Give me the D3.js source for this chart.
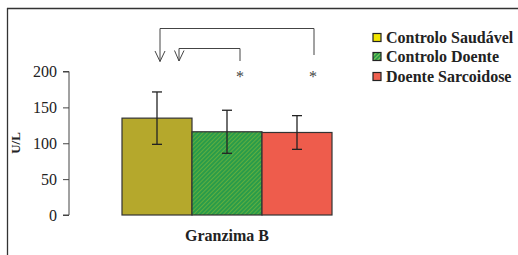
<!DOCTYPE html>
<html><head><meta charset="utf-8">
<script src="https://cdn.jsdelivr.net/npm/d3@7"></script>
<style>body{margin:0;background:#fff}</style>
</head><body>
<script>
const groups = ["Controlo Saudável", "Controlo Doente", "Doente Sarcoidose"];
const means = [135, 116, 115];
const errs = [36.5, 30, 23.5];
const yTicks = [0, 50, 100, 150, 200];
const category = "Granzima B";
const yLabel = "U/L";
const barColors = ["#b5a82c", "#2d9e4c", "#ee5c4c"];
const legendColors = ["#f2e600", "url(#hatchL)", "#ef6050"];

const FONT = "serif";
const W = 518, H = 255;
const svg = d3.select("body").append("svg").attr("width", W).attr("height", H);

const defs = svg.append("defs");
const pat = defs.append("pattern").attr("id", "hatch").attr("patternUnits", "userSpaceOnUse")
  .attr("width", 3).attr("height", 3).attr("patternTransform", "rotate(45)");
pat.append("rect").attr("width", 3).attr("height", 3).attr("fill", "#2a9c4a");
pat.append("rect").attr("width", 1).attr("height", 3).attr("fill", "#5fae3e");
const patL = defs.append("pattern").attr("id", "hatchL").attr("patternUnits", "userSpaceOnUse")
  .attr("width", 3).attr("height", 3).attr("patternTransform", "rotate(45)");
patL.append("rect").attr("width", 3).attr("height", 3).attr("fill", "#2a9c4a");
patL.append("rect").attr("width", 1).attr("height", 3).attr("fill", "#8ccc5a");
const fills = [barColors[0], "url(#hatch)", barColors[2]];

// frame
svg.append("line").attr("x1", 7).attr("x2", W).attr("y1", 8.5).attr("y2", 8.5).attr("stroke", "#333").attr("stroke-width", 1.3);
svg.append("line").attr("x1", 7.5).attr("x2", 7.5).attr("y1", 8).attr("y2", H).attr("stroke", "#333").attr("stroke-width", 1.3);

const y = d3.scaleLinear().domain([0, 200]).range([215, 71.5]);
const x = d3.scaleBand().domain(groups).range([122, 332]).padding(0);

const yAxis = svg.append("g").attr("transform", "translate(69,0)")
  .call(d3.axisLeft(y).tickValues(yTicks).tickSize(6).tickPadding(6));
yAxis.attr("font-family", FONT).attr("font-size", 16);
yAxis.select(".domain").attr("stroke", "#444").attr("d", `M-6,${y(200)}H0V${y(0)}H-6`);
yAxis.selectAll(".tick line").attr("stroke", "#444");
yAxis.selectAll("text").attr("fill", "#222").attr("font-family", FONT).attr("font-size", 16);

// bars
svg.selectAll("rect.bar").data(groups).join("rect").attr("class", "bar")
  .attr("x", d => x(d)).attr("width", x.bandwidth())
  .attr("y", (d, i) => y(means[i])).attr("height", (d, i) => y(0) - y(means[i]))
  .attr("fill", (d, i) => fills[i]).attr("stroke", "#333").attr("stroke-width", 1.2);

// error bars
groups.forEach((g, i) => {
  const cx = x(g) + x.bandwidth() / 2;
  const t = y(means[i] + errs[i]), b = y(means[i] - errs[i]);
  const eg = svg.append("g").attr("stroke", "#222").attr("stroke-width", 1.3);
  eg.append("line").attr("x1", cx).attr("x2", cx).attr("y1", t).attr("y2", b);
  eg.append("line").attr("x1", cx - 5).attr("x2", cx + 5).attr("y1", t).attr("y2", t);
  eg.append("line").attr("x1", cx - 5).attr("x2", cx + 5).attr("y1", b).attr("y2", b);
});

// significance brackets
const c0 = x(groups[0]) + x.bandwidth() / 2;
const c1 = x(groups[1]) + x.bandwidth() / 2;
const c2 = x(groups[2]) + x.bandwidth() / 2;
const br = svg.append("g").attr("stroke", "#444").attr("stroke-width", 1).attr("fill", "none");
br.append("path").attr("d", `M${c2 + 17},55V28.5H${c0 + 3}V61.5`);
br.append("path").attr("d", `M${c0 - 2},51L${c0 + 3},61.5L${c0 + 8},51`);
br.append("path").attr("d", `M${c1 + 13},61V48.5H${c0 + 22}V61`);
br.append("path").attr("d", `M${c0 + 17.5},50.5L${c0 + 22},61L${c0 + 27},50.5`);
svg.append("text").attr("x", c1 + 13).attr("y", 82).attr("text-anchor", "middle")
  .attr("fill", "#444").attr("font-family", FONT).attr("font-size", 16).text("*");
svg.append("text").attr("x", c2 + 16).attr("y", 82).attr("text-anchor", "middle")
  .attr("fill", "#444").attr("font-family", FONT).attr("font-size", 16).text("*");

// axis labels
svg.append("text").attr("transform", "translate(20,143) rotate(-90)").attr("text-anchor", "middle")
  .attr("font-family", FONT).attr("font-size", 13).attr("font-weight", "bold").attr("fill", "#222").text(yLabel);
svg.append("text").attr("x", 227).attr("y", 241).attr("text-anchor", "middle")
  .attr("font-family", FONT).attr("font-size", 16).attr("font-weight", "bold").attr("fill", "#222").text(category);

// legend
const rows = [38, 57, 77];
groups.forEach((g, i) => {
  svg.append("rect").attr("x", 373).attr("y", rows[i] - 4.5).attr("width", 8).attr("height", 8)
    .attr("fill", legendColors[i]).attr("stroke", "#222").attr("stroke-width", 1.2);
  svg.append("text").attr("x", 386).attr("y", rows[i] + 5).attr("font-family", FONT).attr("font-size", 16)
    .attr("font-weight", "bold").attr("fill", "#222").text(g);
});
</script>
</body></html>
